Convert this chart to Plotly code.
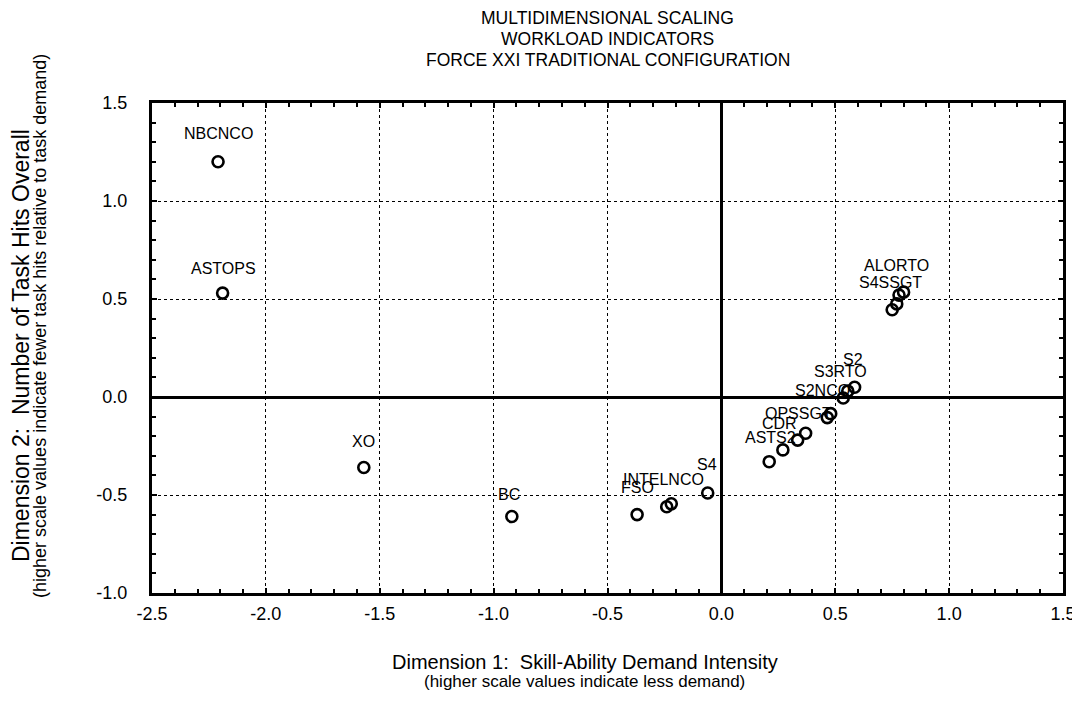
import plotly.graph_objects as go

# ---- data ----
point_labels = ["NBCNCO", "ASTOPS", "XO", "BC", "FSO", "INTELNCO", "", "S4",
                "ALORTO", "", "S4SSGT", "", "S2", "S3RTO", "S2NCO",
                "OPSSGT", "", "CDR", "ASTS2", "", ""]
dim1 = [-2.21, -2.19, -1.57, -0.92, -0.37, -0.24, -0.22, -0.06,
        0.80, 0.78, 0.77, 0.75, 0.585, 0.555, 0.535,
        0.48, 0.465, 0.37, 0.335, 0.27, 0.21]
dim2 = [1.20, 0.53, -0.36, -0.61, -0.60, -0.56, -0.545, -0.49,
        0.535, 0.52, 0.475, 0.445, 0.05, 0.03, -0.005,
        -0.085, -0.105, -0.185, -0.22, -0.27, -0.33]

x_tick_vals = [-2.5, -2.0, -1.5, -1.0, -0.5, 0.0, 0.5, 1.0, 1.5]
x_tick_text = ["-2.5", "-2.0", "-1.5", "-1.0", "-0.5", "0.0", "0.5", "1.0", "1.5"]
y_tick_vals = [-1.0, -0.5, 0.0, 0.5, 1.0, 1.5]
y_tick_text = ["-1.0", "-0.5", "0.0", "0.5", "1.0", "1.5"]

title_lines = ["MULTIDIMENSIONAL SCALING", "WORKLOAD INDICATORS",
               "FORCE XXI TRADITIONAL CONFIGURATION"]
x_title = "Dimension 1:  Skill-Ability Demand Intensity"
x_subtitle = "(higher scale values indicate less demand)"
y_title = "Dimension 2:  Number of Task Hits Overall"
y_subtitle = "(higher scale values indicate fewer task hits relative to task demand)"

# label pixel offsets (style only)
label_shift = {
    "NBCNCO": (0, 28), "ASTOPS": (1, 25), "XO": (0, 26), "BC": (-3, 22),
    "FSO": (0, 27), "INTELNCO": (-3, 27), "S4": (-1, 29), "ALORTO": (-7, 27),
    "S4SSGT": (-6, 21), "S2": (-2, 28), "S3RTO": (-7, 20), "S2NCO": (-21, 7),
    "OPSSGT": (-32, 0), "CDR": (-26, 10), "ASTS2": (-27, 3),
}

FONT = "Arial, Liberation Sans, sans-serif"

fig = go.Figure()
fig.add_trace(go.Scatter(
    x=dim1, y=dim2, mode="markers",
    marker=dict(symbol="circle-open", size=11, color="black",
                line=dict(width=2.6, color="black")),
    hoverinfo="skip", showlegend=False,
))

annotations = []
for lab, xv, yv in zip(point_labels, dim1, dim2):
    if not lab:
        continue
    dx, dy = label_shift.get(lab, (0, 25))
    annotations.append(dict(
        x=xv, y=yv, xref="x", yref="y", text=lab, showarrow=False,
        xshift=dx, yshift=dy, xanchor="center", yanchor="middle",
        font=dict(family=FONT, size=16, color="black"),
    ))

for i, line in enumerate(title_lines):
    annotations.append(dict(
        x=0.5, y=1.0, xref="paper", yref="paper", text=line,
        showarrow=False, yshift=85 - i * 21, xanchor="center", yanchor="middle",
        font=dict(family=FONT, size=17.5, color="black"),
    ))

annotations.append(dict(x=0.475, y=0, xref="paper", yref="paper", text=x_title,
                        showarrow=False, yshift=-69, xanchor="center", yanchor="middle",
                        font=dict(family=FONT, size=20, color="black")))
annotations.append(dict(x=0.475, y=0, xref="paper", yref="paper", text=x_subtitle,
                        showarrow=False, yshift=-88, xanchor="center", yanchor="middle",
                        font=dict(family=FONT, size=17, color="black")))
annotations.append(dict(x=0, y=0.504, xref="paper", yref="paper", text=y_title,
                        showarrow=False, xshift=-131, textangle=-90,
                        xanchor="center", yanchor="middle",
                        font=dict(family=FONT, size=23, color="black")))
annotations.append(dict(x=0, y=0.545, xref="paper", yref="paper", text=y_subtitle,
                        showarrow=False, xshift=-112, textangle=-90,
                        xanchor="center", yanchor="middle",
                        font=dict(family=FONT, size=18, color="black")))

axis_common = dict(
    showline=True, linewidth=3, linecolor="black", mirror="allticks",
    ticks="inside", ticklen=5, tickwidth=2, tickcolor="black",
    showgrid=True, gridcolor="black", gridwidth=1.4, griddash="dot",
    zeroline=True, zerolinecolor="black", zerolinewidth=2.5,
    tickfont=dict(family=FONT, size=18, color="black"),
    minor=dict(dtick=0.1, ticks="inside", ticklen=4, tickwidth=2,
               tickcolor="black", showgrid=False),
)

fig.update_xaxes(range=[-2.5, 1.5], tickmode="array", tickvals=x_tick_vals,
                 ticktext=x_tick_text, ticklabelstandoff=2, **axis_common)
fig.update_yaxes(range=[-1.0, 1.5], tickmode="array", tickvals=y_tick_vals,
                 ticktext=y_tick_text, ticklabelstandoff=18, **axis_common)

fig.update_layout(
    width=1080, height=707,
    margin=dict(l=144, r=18, t=95, b=122),
    paper_bgcolor="white", plot_bgcolor="white",
    annotations=annotations,
    font=dict(family=FONT, color="black"),
)

fig.write_html("out.html")
